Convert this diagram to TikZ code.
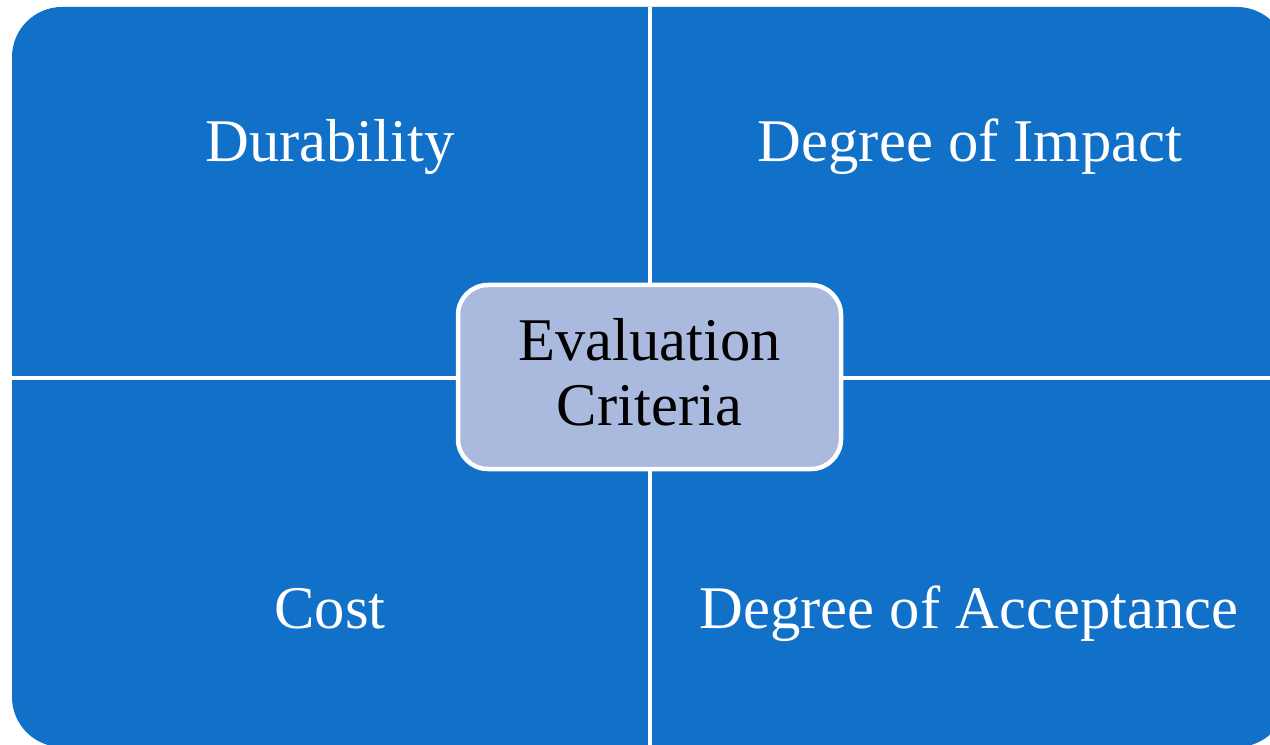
\documentclass[tikz,border=0pt]{standalone}
\usepackage{fontspec}
\setmainfont{Liberation Serif}
\usetikzlibrary{positioning,calc}
\definecolor{quadblue}{RGB}{17,112,200}
\definecolor{centerfill}{RGB}{170,185,222}

\begin{document}
\begin{tikzpicture}[
    label text/.style={anchor=base, text=white, font=\fontsize{34.5}{40}\selectfont},
    divider/.style={white, line width=0.09cm}
]
\useasboundingbox (0,0) rectangle (25.4,-14.9);
\clip (0,0) rectangle (25.4,-14.9);

% 背景块
\fill[quadblue, rounded corners=1cm] (0.24,-0.14) rectangle (25.74,-14.94);

% 分隔线
\coordinate (vtop) at (13.0,-0.14);
\coordinate (vbot) at (13.0,-14.94);
\coordinate (hleft) at (0.24,-7.56);
\coordinate (hright) at (25.74,-7.56);
\draw[divider] (vtop) -- (vbot);
\draw[divider] (hleft) -- (hright);

% 四个象限
\node[label text] (durability) at (6.6,-3.24) {Durability};
\node[label text] (impact) at (19.4,-3.24) {Degree of Impact};
\node[label text] (cost) at (6.6,-12.56) {Cost};
\node[label text] (acceptance) at (19.38,-12.56) {Degree of Acceptance};

% 中心
\node[draw=white, line width=0.09cm, fill=centerfill, rectangle, rounded corners=0.6cm,
      minimum width=7.66cm, minimum height=3.68cm, align=center, text depth=0.2cm,
      font=\fontsize{34.5}{37}\selectfont] (criteria) at (12.99,-7.54)
{Evaluation \\ Criteria};
\end{tikzpicture}
\end{document}
